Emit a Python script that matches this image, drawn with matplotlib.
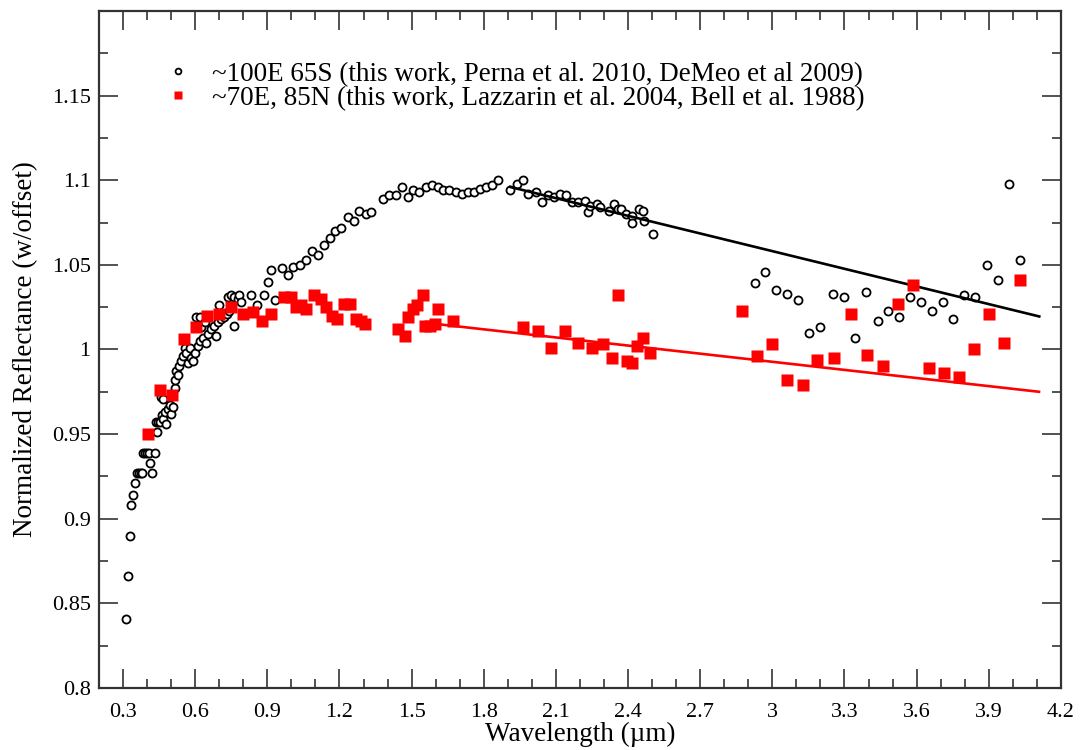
import numpy as np
import matplotlib.pyplot as plt
from matplotlib.ticker import MultipleLocator

plt.rcParams['font.family'] = ['Liberation Serif', 'DejaVu Serif']

# ~100E 65S spectrum (open circles)
s_wl = [0.312, 0.321, 0.328, 0.332, 0.340, 0.348, 0.357, 0.365, 0.373, 0.380,
        0.384, 0.392, 0.400, 0.409, 0.414, 0.421, 0.432, 0.440, 0.439, 0.447,
        0.453, 0.456, 0.460, 0.467, 0.467, 0.474, 0.480, 0.487, 0.494, 0.501,
        0.507, 0.515, 0.515, 0.522, 0.528, 0.532, 0.542, 0.549, 0.556, 0.563,
        0.570, 0.577, 0.583, 0.590, 0.598, 0.604, 0.611, 0.618, 0.618, 0.625,
        0.632, 0.639, 0.645, 0.652, 0.666, 0.680, 0.687, 0.694, 0.698, 0.707,
        0.721, 0.731, 0.735, 0.742, 0.749, 0.763, 0.763, 0.776, 0.783, 0.790,
        0.834, 0.859, 0.887, 0.901, 0.914, 0.932,
        0.962, 0.986, 1.008, 1.034, 1.059, 1.084, 1.110, 1.135, 1.162, 1.183,
        1.206, 1.234, 1.259, 1.283, 1.310, 1.332, 1.383, 1.408, 1.434, 1.458,
        1.483, 1.506, 1.532, 1.558, 1.583, 1.608, 1.632, 1.656, 1.684, 1.709,
        1.733, 1.759, 1.784, 1.809, 1.835, 1.861,
        1.909, 1.937, 1.964, 1.985, 2.018, 2.042, 2.069, 2.092, 2.117, 2.142,
        2.168, 2.192, 2.219, 2.234, 2.243, 2.270, 2.284, 2.320, 2.343, 2.357,
        2.371, 2.393, 2.416, 2.416, 2.444, 2.462, 2.468, 2.505,
        2.928, 2.970, 3.015, 3.061, 3.105, 3.151, 3.199, 3.252, 3.298, 3.345,
        3.391, 3.439, 3.483, 3.527, 3.572, 3.617, 3.662, 3.708, 3.753, 3.798,
        3.842, 3.891, 3.939, 3.985, 4.031]
s_refl = [0.841, 0.866, 0.890, 0.908, 0.914, 0.921, 0.927, 0.927, 0.927, 0.927,
          0.939, 0.939, 0.939, 0.939, 0.933, 0.927, 0.939, 0.951, 0.957, 0.957,
          0.957, 0.972, 0.961, 0.959, 0.971, 0.963, 0.956, 0.965, 0.967, 0.962,
          0.966, 0.977, 0.982, 0.987, 0.985, 0.990, 0.993, 0.996, 1.001, 0.998,
          0.992, 1.001, 0.995, 0.993, 0.998, 1.019, 1.002, 1.005, 1.019, 1.013,
          1.007, 1.016, 1.004, 1.009, 1.012, 1.014, 1.008, 1.016, 1.026, 1.018,
          1.019, 1.021, 1.031, 1.023, 1.032, 1.031, 1.014, 1.030, 1.032, 1.028,
          1.032, 1.026, 1.032, 1.040, 1.047, 1.029,
          1.048, 1.044, 1.049, 1.050, 1.053, 1.058, 1.056, 1.062, 1.066, 1.070,
          1.072, 1.078, 1.076, 1.082, 1.080, 1.081, 1.089, 1.091, 1.091, 1.096,
          1.090, 1.094, 1.093, 1.096, 1.097, 1.096, 1.094, 1.094, 1.093, 1.092,
          1.093, 1.093, 1.095, 1.096, 1.097, 1.100,
          1.094, 1.098, 1.100, 1.092, 1.093, 1.087, 1.091, 1.090, 1.092, 1.091,
          1.087, 1.087, 1.088, 1.081, 1.085, 1.086, 1.084, 1.082, 1.086, 1.083,
          1.083, 1.080, 1.079, 1.075, 1.083, 1.082, 1.076, 1.068,
          1.039, 1.046, 1.035, 1.033, 1.029, 1.010, 1.013, 1.033, 1.031, 1.007,
          1.034, 1.017, 1.023, 1.019, 1.031, 1.028, 1.023, 1.028, 1.018, 1.032,
          1.031, 1.050, 1.041, 1.098, 1.053]

# ~70E, 85N spectrum (filled squares)
n_wl = [0.405, 0.453, 0.504, 0.552, 0.602, 0.650, 0.698, 0.749, 0.800, 0.839,
        0.877, 0.916, 0.969, 0.998, 1.019, 1.040, 1.060, 1.093, 1.122, 1.143,
        1.168, 1.188, 1.217, 1.242, 1.267, 1.288, 1.308,
        1.443, 1.472, 1.485, 1.505, 1.523, 1.548, 1.556, 1.577, 1.597, 1.610,
        1.672,
        1.963, 2.026, 2.080, 2.137, 2.192, 2.250, 2.295, 2.334, 2.358, 2.396,
        2.416, 2.437, 2.462, 2.492,
        2.873, 2.937, 2.999, 3.062, 3.126, 3.187, 3.256, 3.326, 3.392, 3.462,
        3.524, 3.586, 3.650, 3.712, 3.776, 3.839, 3.900, 3.965, 4.028]
n_refl = [0.950, 0.976, 0.973, 1.006, 1.013, 1.020, 1.021, 1.025, 1.021, 1.022,
          1.017, 1.021, 1.031, 1.031, 1.025, 1.026, 1.024, 1.032, 1.030, 1.025,
          1.020, 1.018, 1.027, 1.027, 1.018, 1.017, 1.015,
          1.012, 1.008, 1.019, 1.024, 1.026, 1.032, 1.014, 1.014, 1.015, 1.024,
          1.017,
          1.013, 1.011, 1.001, 1.011, 1.004, 1.001, 1.003, 0.995, 1.032, 0.993,
          0.992, 1.002, 1.007, 0.998,
          1.023, 0.996, 1.003, 0.982, 0.979, 0.994, 0.995, 1.021, 0.997, 0.990,
          1.027, 1.038, 0.989, 0.986, 0.984, 1.000, 1.021, 1.004, 1.041]

# linear fits drawn over the long-wavelength part
s_fit_wl = [1.91, 4.11]
s_fit_refl = [1.0960, 1.0195]
n_fit_wl = [1.618, 4.109]
n_fit_refl = [1.0148, 0.9750]

xticks = [0.3, 0.6, 0.9, 1.2, 1.5, 1.8, 2.1, 2.4, 2.7, 3.0, 3.3, 3.6, 3.9, 4.2]
xlabels = ['0.3', '0.6', '0.9', '1.2', '1.5', '1.8', '2.1', '2.4', '2.7', '3',
           '3.3', '3.6', '3.9', '4.2']
yticks = [0.8, 0.85, 0.9, 0.95, 1.0, 1.05, 1.1, 1.15]
ylabels = ['0.8', '0.85', '0.9', '0.95', '1', '1.05', '1.1', '1.15']

fig = plt.figure(figsize=(10.82, 7.5), dpi=100)
ax = fig.add_axes([0.0915, 0.0827, 0.889, 0.9027])

ax.plot(s_wl, s_refl, linestyle='none', marker='o', ms=5.8, mfc='white',
        mec='black', mew=1.3, label='~100E 65S (this work, Perna et al. 2010, DeMeo et al 2009)')
ax.plot(s_fit_wl, s_fit_refl, color='black', lw=1.9)
ax.plot(n_wl, n_refl, linestyle='none', marker='s', ms=8.6, color='#ff0000',
        mec='none', label='~70E, 85N (this work, Lazzarin et al. 2004, Bell et al. 1988)')
ax.plot(n_fit_wl, n_fit_refl, color='#ff0000', lw=1.9)

ax.set_xlim(0.2, 4.2)
ax.set_ylim(0.8, 1.2)
ax.set_xticks(xticks)
ax.set_xticklabels(xlabels)
ax.set_yticks(yticks)
ax.set_yticklabels(ylabels)
ax.xaxis.set_minor_locator(MultipleLocator(0.1))
ax.yaxis.set_minor_locator(MultipleLocator(0.025))
ax.tick_params(which='both', direction='in', top=True, right=True,
               labelsize=16, width=1.1, color='#222222')
ax.tick_params(which='major', length=13.5)
ax.tick_params(which='minor', length=6.5)
ax.tick_params(axis='x', which='major', pad=11)
ax.tick_params(axis='y', which='major', pad=6)
for sp in ax.spines.values():
    sp.set_linewidth(1.6)
    sp.set_color('#333333')

ax.set_xlabel('Wavelength (µm)', fontsize=19.5, labelpad=0)
ax.set_ylabel('Normalized Reflectance (w/offset)', fontsize=19.5, labelpad=10)

ax.legend(loc='upper left', bbox_to_anchor=(0.0486, 0.953), frameon=False,
          fontsize=19.5, markerscale=0.72, handlelength=1.0, handletextpad=0.76,
          labelspacing=-0.03, borderpad=0.2)

fig.savefig('out.png', dpi=100)
